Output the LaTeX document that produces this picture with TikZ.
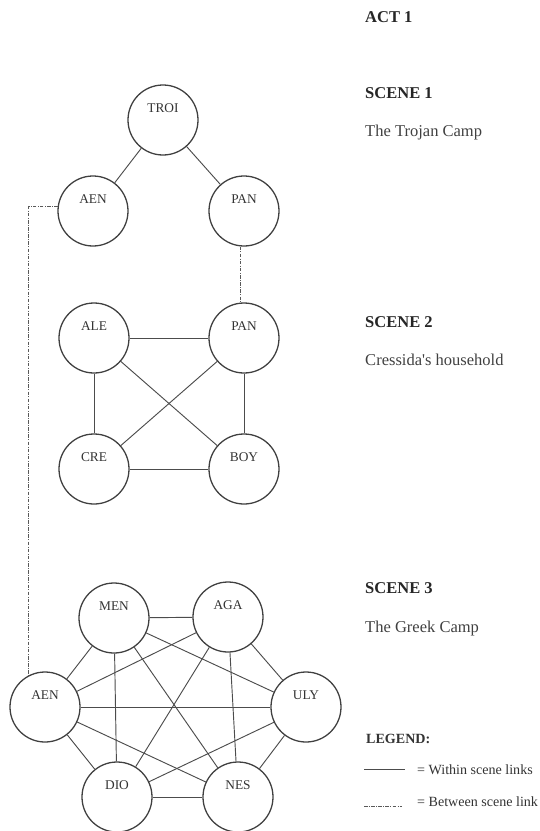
\documentclass[tikz,border=0pt]{standalone}
\usepackage{fontspec}
\setmainfont{Liberation Serif}
\usepackage{tikz}
\tikzset{
  who/.style={circle, draw=black!75, line width=1.1pt, minimum size=2.1cm, inner sep=0pt,
    font=\fontsize{11.4}{12}\selectfont, text=black!80, text height=0.25cm, text depth=0.71cm},
  link/.style={draw=black!70, line width=0.8pt},
  xlink/.style={draw=black!65, line width=0.75pt, dash pattern=on 3pt off 1.2pt on 0.7pt off 1.2pt},
  head/.style={anchor=base west, inner sep=0pt, text=black!85, font=\fontsize{14.1}{16}\selectfont\bfseries},
  place/.style={anchor=base west, inner sep=0pt, text=black!75, font=\fontsize{14.1}{16}\selectfont},
  legtxt/.style={anchor=base west, inner sep=0pt, text=black!80, font=\fontsize{12}{14}\selectfont}
}

\begin{document}
\begin{tikzpicture}[x=0.03cm, y=-0.03cm]
  \useasboundingbox (0,0) rectangle (540,831);
  % scene 1
  \node[who] (troi) at (163,120) {TROI};
  \node[who] (aena) at (93,211) {AEN};
  \node[who] (pana) at (244,211) {PAN};
  \draw[link] (troi) -- (aena);
  \draw[link] (troi) -- (pana);
  % scene 2
  \node[who] (ale) at (94,338) {ALE};
  \node[who] (panb) at (244,338) {PAN};
  \node[who] (cre) at (94,469) {CRE};
  \node[who] (boy) at (244,469) {BOY};
  \foreach \a/\b in {ale/panb, ale/cre, ale/boy, panb/cre, panb/boy, cre/boy}
    \draw[link] (\a) -- (\b);
  % scene 3
  \node[who] (men) at (114,618) {MEN};
  \node[who] (aga) at (228,617) {AGA};
  \node[who] (aenc) at (45,707) {AEN};
  \node[who] (uly) at (306,707) {ULY};
  \node[who] (dio) at (117,797) {DIO};
  \node[who] (nes) at (238,797) {NES};
  \foreach \a/\b in {men/aga, men/aenc, men/uly, men/dio, men/nes,
                     aga/aenc, aga/uly, aga/dio, aga/nes,
                     aenc/uly, aenc/dio, aenc/nes,
                     uly/dio, uly/nes, dio/nes}
    \draw[link] (\a) -- (\b);
  % between scenes
  \draw[xlink] (pana.265) -- (panb.95);
  \draw[xlink] (aena.172) -| (aenc.117);
  % text
  \node[head] (act) at (365,22) {ACT 1};
  \node[head] (sa) at (365,98) {SCENE 1};
  \node[place] (pa) at (365,136) {The Trojan Camp};
  \node[head] (sb) at (365,327) {SCENE 2};
  \node[place] (pb) at (365,365) {Cressida\textquotesingle s household};
  \node[head] (sc) at (365,593) {SCENE 3};
  \node[place] (pc) at (365,632) {The Greek Camp};
  % legend
  \node[legtxt, font=\fontsize{12}{14}\selectfont\bfseries] (leg) at (366,743) {LEGEND:};
  \node[legtxt] (within) at (417,774) {= Within scene links};
  \node[legtxt] (between) at (417,806) {= Between scene link};
  \coordinate (wa) at (364,769);
  \coordinate (wb) at (405,769);
  \coordinate (ba) at (364,806);
  \coordinate (bb) at (402,806);
  \draw[link] (wa) -- (wb);
  \draw[xlink] (ba) -- (bb);
\end{tikzpicture}
\end{document}
